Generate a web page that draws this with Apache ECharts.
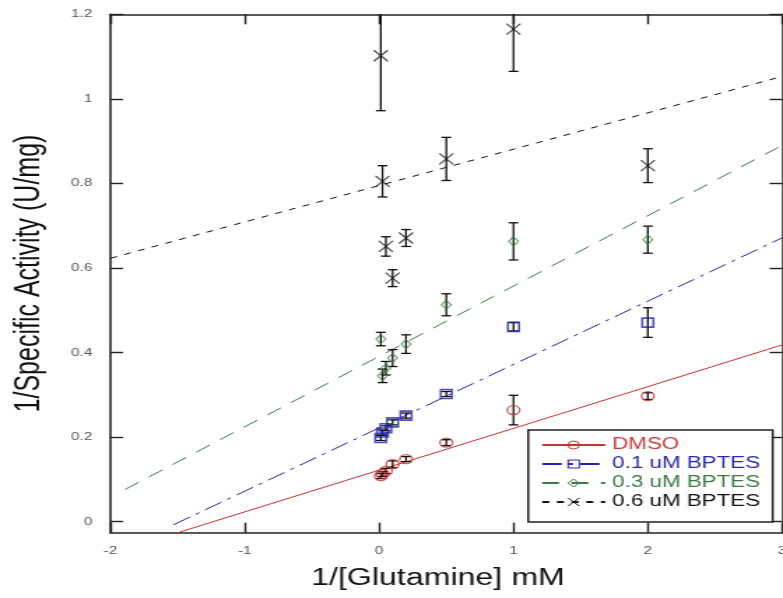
<!DOCTYPE html>
<html><head><meta charset="utf-8">
<script src="https://cdn.jsdelivr.net/npm/echarts@6/dist/echarts.min.js"></script>
<style>
html,body{margin:0;padding:0;background:#fff;overflow:hidden;}
#chart{width:560px;height:598px;transform:scaleX(1.39821);transform-origin:0 0;}
</style></head><body><div id="chart"></div>
<script>
// ---- data ----
const seriesNames = ['DMSO', '0.1 uM BPTES', '0.3 uM BPTES', '0.6 uM BPTES'];
const invGln = [0.0125, 0.025, 0.05, 0.1, 0.2, 0.5, 1, 2];
const dmsoY   = [0.108, 0.113, 0.120, 0.136, 0.148, 0.187, 0.264, 0.297];
const dmsoErr = [0.006, 0.006, 0.006, 0.008, 0.006, 0.007, 0.035, 0.008];
const bpt01Y   = [0.198, 0.211, 0.221, 0.235, 0.251, 0.302, 0.461, 0.471];
const bpt01Err = [0.006, 0.006, 0.006, 0.006, 0.006, 0.006, 0.010, 0.035];
const bpt03Y   = [0.432, 0.345, 0.363, 0.387, 0.420, 0.513, 0.663, 0.667];
const bpt03Err = [0.016, 0.016, 0.016, 0.020, 0.022, 0.026, 0.044, 0.032];
const bpt06Y   = [1.102, 0.805, 0.651, 0.576, 0.671, 0.858, 1.165, 0.842];
const bpt06Err = [0.130, 0.037, 0.023, 0.020, 0.020, 0.051, 0.100, 0.040];
// Lineweaver-Burk fit lines: y = intercept + slope * x
const fitIntercept = [0.122, 0.222, 0.391, 0.795];
const fitSlope     = [0.0987, 0.1498, 0.1664, 0.086];
const fitFrom      = [-1.6, -1.53, -1.89, -2];
const fitTo        = [3, 3, 3, 3];
const xTicks = [-2, -1, 0, 1, 2, 3];
const yTicks = [0, 0.2, 0.4, 0.6, 0.8, 1, 1.2];

// ---- styles ----
const FONT = "'Liberation Sans', Arial, sans-serif";
const colors = ['#c83232', '#2424a8', '#3a7a3c', '#111111'];
const textColors = ['#c83c3c', '#2a2aa6', '#3d7a45', '#111111'];
const dashes = ['solid', [14, 5, 3, 5], [12, 9], [5, 5.5]];
const symbols = ['circle', 'rect', 'diamond', 'path://M0,0L10,10M10,0L0,10'];
const symbolSizes = [[9, 9], [8, 9], [7, 9], [10, 11]];
const borderWidths = [1.3, 1.6, 1, 1.1];
const yVals = [dmsoY, bpt01Y, bpt03Y, bpt06Y];
const yErrs = [dmsoErr, bpt01Err, bpt03Err, bpt06Err];

function errRender(params, api) {
  const x = api.value(0), lo = api.value(1), hi = api.value(2);
  const pLo = api.coord([x, lo]);
  const pHi = api.coord([x, hi]);
  const cs = params.coordSys;
  const top = Math.max(pHi[1], cs.y);
  const bot = Math.min(pLo[1], cs.y + cs.height);
  const hw = 3.5;
  const st = { stroke: '#111', lineWidth: 1.3 };
  const ch = [{ type: 'line', shape: { x1: pLo[0], y1: top, x2: pLo[0], y2: bot }, style: st }];
  if (pHi[1] >= cs.y) ch.push({ type: 'line', shape: { x1: pHi[0] - hw, y1: pHi[1], x2: pHi[0] + hw, y2: pHi[1] }, style: st });
  if (pLo[1] <= cs.y + cs.height) ch.push({ type: 'line', shape: { x1: pLo[0] - hw, y1: pLo[1], x2: pLo[0] + hw, y2: pLo[1] }, style: st });
  return { type: 'group', children: ch };
}

const series = [];
seriesNames.forEach((name, i) => {
  series.push({
    type: 'line', name: name, silent: true, z: 2,
    data: [[fitFrom[i], fitIntercept[i] + fitSlope[i] * fitFrom[i]], [fitTo[i], fitIntercept[i] + fitSlope[i] * fitTo[i]]],
    symbol: symbols[i], showSymbol: false, clip: true,
    lineStyle: { color: colors[i], width: 1, type: dashes[i] },
    itemStyle: { color: 'rgba(0,0,0,0)', borderColor: colors[i], borderWidth: 1 }
  });
});
seriesNames.forEach((name, i) => {
  series.push({
    type: 'custom', name: name, silent: true, z: 3,
    data: invGln.map((x, j) => [x, yVals[i][j] - yErrs[i][j], yVals[i][j] + yErrs[i][j]]),
    encode: { x: 0, y: [1, 2] },
    renderItem: errRender
  });
  series.push({
    type: 'scatter', name: name, silent: true, z: 4,
    data: invGln.map((x, j) => [x, yVals[i][j]]),
    symbol: symbols[i], symbolSize: symbolSizes[i],
    itemStyle: { color: 'rgba(0,0,0,0)', borderColor: colors[i], borderWidth: borderWidths[i] }
  });
});

const axisLine = { show: true, onZero: false, lineStyle: { color: '#222', width: 1.5 } };
const lbl = { color: '#555', fontSize: 11, fontFamily: FONT, margin: 13, showMinLabel: true, showMaxLabel: true };

const option = {
  animation: false,
  backgroundColor: '#fff',
  grid: { left: 79, right: 0.6, top: 14.3, bottom: 65.3, containLabel: false, outerBoundsMode: 'none' },
  xAxis: [
    { type: 'value', min: -2, max: 3, position: 'bottom', axisLine: axisLine,
      axisTick: { inside: true, length: 10, customValues: xTicks, lineStyle: { color: '#222', width: 1.4 } },
      axisLabel: Object.assign({ customValues: xTicks }, lbl),
      splitLine: { show: false },
      name: '1/[Glutamine] mM', nameLocation: 'middle', nameGap: 34,
      nameTextStyle: { fontSize: 23, color: '#111', fontFamily: FONT, padding: [0, 12, 0, 0] } },
    { type: 'value', min: -2, max: 3, position: 'top', axisLine: axisLine,
      axisTick: { inside: true, length: 10, customValues: xTicks, lineStyle: { color: '#222', width: 1.4 } },
      axisLabel: { show: false }, splitLine: { show: false } }
  ],
  yAxis: [
    { type: 'value', min: -0.026, max: 1.2, position: 'left', axisLine: axisLine,
      axisTick: { inside: true, length: 9, customValues: yTicks, lineStyle: { color: '#222', width: 1.4 } },
      axisLabel: Object.assign({ customValues: yTicks }, lbl),
      splitLine: { show: false },
      name: '1/Specific Activity (U/mg)', nameLocation: 'middle', nameGap: 45, nameRotate: 90,
      nameTextStyle: { fontSize: 25, color: '#111', fontFamily: FONT } },
    { type: 'value', min: -0.026, max: 1.2, position: 'right', axisLine: axisLine,
      axisTick: { inside: true, length: 9, customValues: yTicks, lineStyle: { color: '#222', width: 1.4 } },
      axisLabel: { show: false }, splitLine: { show: false } }
  ],
  legend: {
    orient: 'vertical', left: 377.8, top: 430,
    padding: [7, 9, 12, 9], itemGap: 3, itemWidth: 45, itemHeight: 10,
    backgroundColor: '#fff', borderColor: '#222', borderWidth: 1.5,
    selectedMode: false,
    itemStyle: { borderWidth: 1 },
    textStyle: { fontSize: 16, fontFamily: FONT },
    data: seriesNames.map((n, i) => ({ name: n, textStyle: { color: textColors[i] } }))
  },
  series: series
};

const chart = echarts.init(document.getElementById('chart'));
chart.setOption(option);
</script>
</body></html>
